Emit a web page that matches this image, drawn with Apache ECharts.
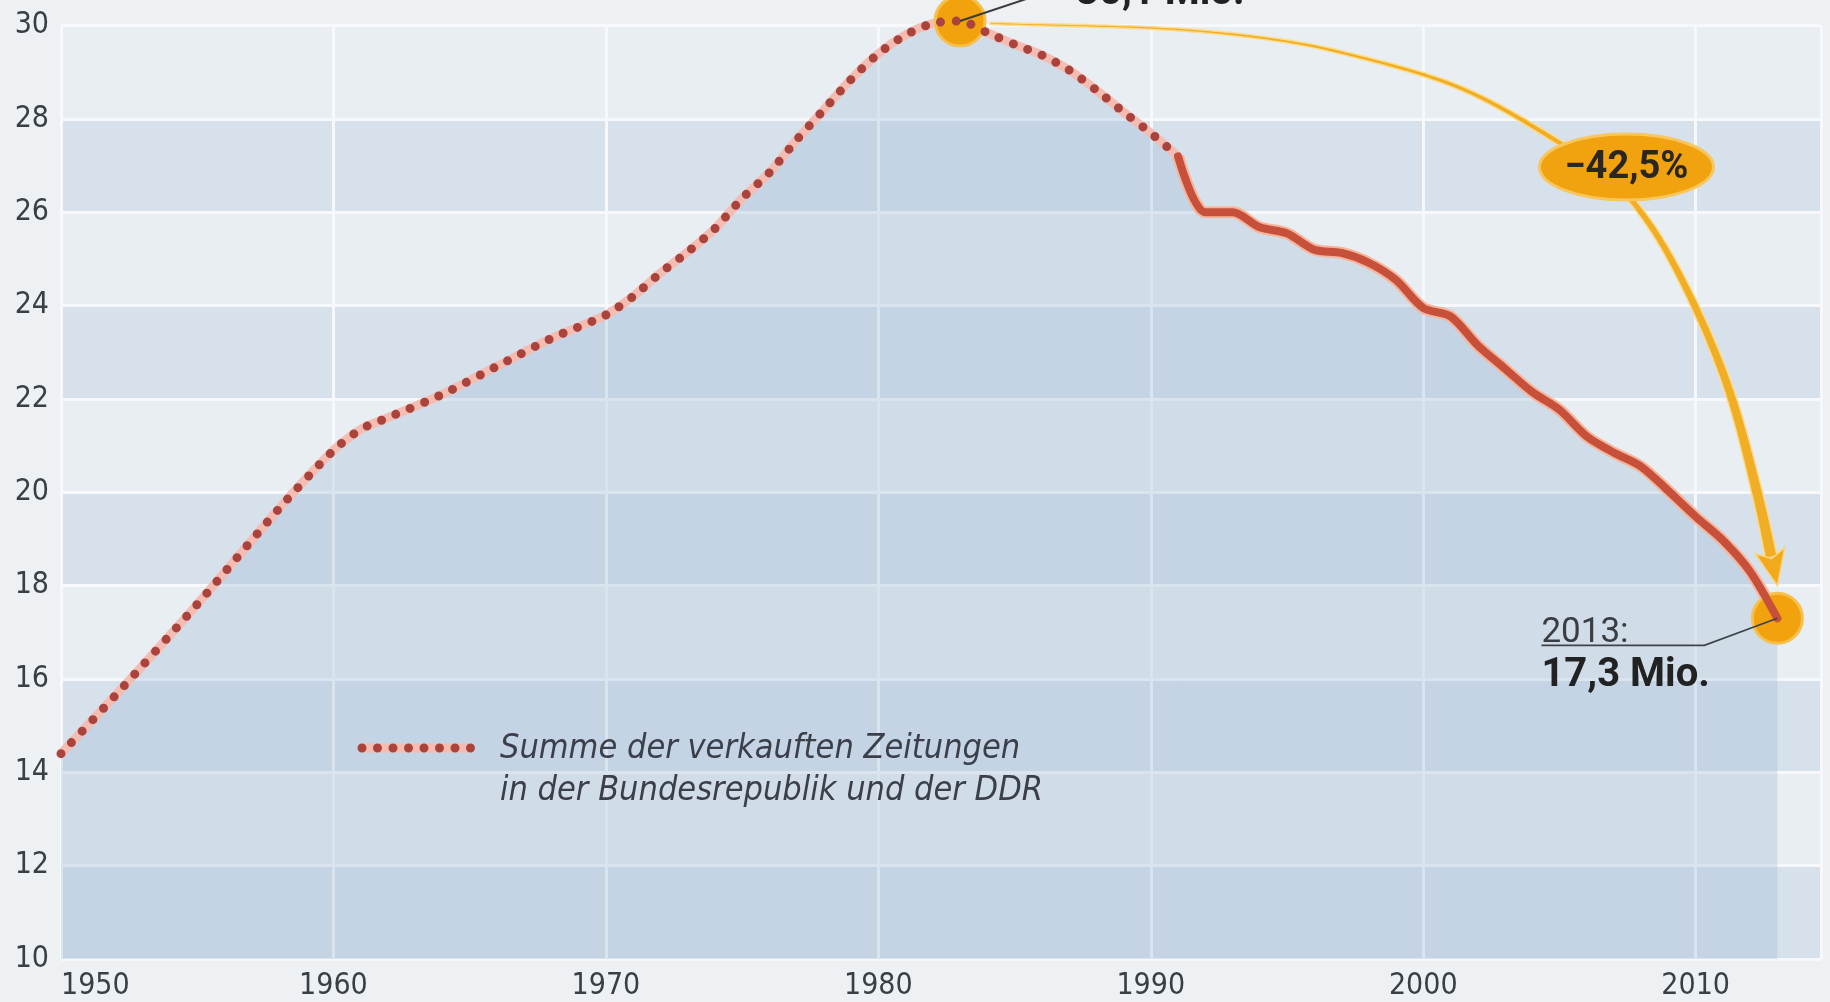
<!DOCTYPE html>
<html><head><meta charset="utf-8">
<script src="https://cdn.jsdelivr.net/npm/echarts@6/dist/echarts.min.js"></script>
<style>html,body{margin:0;padding:0;background:#edf1f4;}#c{width:1830px;height:1002px;}</style>
</head><body><div id="c"></div>
<script>
// ---- data (million copies sold) ----
const dottedYears  = [1950,1952,1955,1958,1960,1961,1962,1964,1966,1968,1970,1971,1972,1973,1974,1975,1976,1977,1978,1979,1980,1981,1982,1983,1984,1985,1986,1987,1988,1989,1990,1991];
const dottedValues = [14.4,15.65,17.6,19.65,20.9,21.35,21.6,22.1,22.7,23.3,23.8,24.2,24.7,25.15,25.65,26.3,26.85,27.55,28.2,28.85,29.4,29.8,30.05,30.1,29.85,29.6,29.37,29.05,28.62,28.15,27.7,27.2];
const solidYears   = [1991,1992,1993,1994,1995,1996,1997,1998,1999,2000,2001,2002,2003,2004,2005,2006,2007,2008,2009,2010,2011,2012,2013];
const solidValues  = [27.2,26.0,26.0,25.68,25.55,25.2,25.13,24.92,24.55,23.95,23.77,23.15,22.65,22.15,21.77,21.2,20.85,20.55,20.03,19.48,18.97,18.3,17.3];
const highlightYears  = [1983, 2013];
const highlightValues = [30.1, 17.3];
const yTicks = [10,12,14,16,18,20,22,24,26,28,30];
const xTicks = [1950,1960,1970,1980,1990,2000,2010];
const labelPeak = '30,1 Mio.';
const labelEndYear = '2013:';
const labelEnd = '17,3 Mio.';
const labelChange = '\u221242,5%';
const legendLines = ['Summe der verkauften Zeitungen', 'in der Bundesrepublik und der DDR'];
// arrow path (annotation) in data coordinates [year, value]
const arrowPath = [[1984.1,30.05],[1991.2,29.91],[1994.9,29.67],[1997.1,29.41],[2001.3,28.68],[2004.7,27.6],[2006.94,26.69],[2008.26,25.79],[2009.69,24.33],[2011.16,22.3],[2012.23,20.05],[2013.0,18.0]];
const ellipseAt = [2007.46, 26.97];

const zip = (a,b)=>a.map((v,i)=>[v,b[i]]);
const dotted = zip(dottedYears, dottedValues);
const solid = zip(solidYears, solidValues);
const highlights = zip(highlightYears, highlightValues);

const AX_FONT = '"DejaVu Sans Condensed","Liberation Sans Narrow",sans-serif';
const areaColor = 'rgba(150,180,212,0.42)';

const chart = echarts.init(document.getElementById('c'), null, {renderer:'canvas'});
chart.setOption({
  backgroundColor:'#edf1f4',
  animation:false,
  grid:{left:61, right:9, top:25.7, bottom:43, containLabel:false},
  xAxis:{type:'value', min:1950, max:2014.6, interval:10,
    axisLine:{show:false}, axisTick:{show:false},
    axisLabel:{fontFamily:AX_FONT, fontSize:30, color:'#3a3e45', margin:12, alignMinLabel:'left', showMaxLabel:false,
      formatter:v=> xTicks.includes(v)? String(v):''},
    splitLine:{show:true, lineStyle:{color:'#f6f8fb', width:3}}},
  yAxis:{type:'value', min:10, max:30, interval:2,
    axisLine:{show:false}, axisTick:{show:false},
    axisLabel:{fontFamily:AX_FONT, fontSize:30, color:'#3a3e45', margin:12,
      formatter:v=> yTicks.includes(v)? String(v):''},
    splitLine:{show:true, lineStyle:{color:'#f6f8fb', width:3}},
    splitArea:{show:true, areaStyle:{color:['#d7e1eb','#e9eef3']}}},
  series:[
    {type:'line', data:dotted, smooth:0.25, symbol:'none', z:3, clip:false,
      lineStyle:{color:'#f4bdb3', width:9},
      areaStyle:{color:areaColor, origin:'start'}},
    {type:'line', data:solid, smooth:0.3, symbol:'none', z:3, clip:false,
      lineStyle:{color:'#f6b59c', width:12},
      areaStyle:{color:areaColor, origin:'start'}},
    {type:'scatter', data:highlights, symbolSize:50, z:4, clip:false,
      itemStyle:{color:'#f1a20c', borderColor:'#f6c04e', borderWidth:3, opacity:1}},
    {type:'line', data:dotted, smooth:0.25, symbol:'none', z:5, clip:false,
      lineStyle:{color:'#a9433c', width:9, type:[0,15.5], cap:'round'}},
    {type:'line', data:solid, smooth:0.3, symbol:'none', z:5, clip:false,
      lineStyle:{color:'#c7503b', width:8, cap:'round', join:'round'}}
  ]
});

function px(p){ return chart.convertToPixel({gridIndex:0}, p); }
// centripetal Catmull-Rom
function crSpline(pts, steps){
  const n=pts.length, P=[ [2*pts[0][0]-pts[1][0], 2*pts[0][1]-pts[1][1]] ].concat(pts, [[2*pts[n-1][0]-pts[n-2][0], 2*pts[n-1][1]-pts[n-2][1]]]);
  const out=[];
  const d=(a,b)=>Math.pow(Math.hypot(b[0]-a[0],b[1]-a[1])||1e-6,0.5);
  const lerp=(a,b,ta,tb,t)=>[ (tb-t)/(tb-ta)*a[0]+(t-ta)/(tb-ta)*b[0], (tb-t)/(tb-ta)*a[1]+(t-ta)/(tb-ta)*b[1] ];
  for(let i=1;i<P.length-2;i++){
    const p0=P[i-1],p1=P[i],p2=P[i+1],p3=P[i+2];
    const t0=0,t1=t0+d(p0,p1),t2=t1+d(p1,p2),t3=t2+d(p2,p3);
    for(let s=0;s<steps;s++){
      const t=t1+(t2-t1)*s/steps;
      const A1=lerp(p0,p1,t0,t1,t),A2=lerp(p1,p2,t1,t2,t),A3=lerp(p2,p3,t2,t3,t);
      const B1=lerp(A1,A2,t0,t2,t),B2=lerp(A2,A3,t1,t3,t);
      out.push(lerp(B1,B2,t1,t2,t));
    }
  }
  out.push(pts[n-1]);
  return out;
}

function buildArrow(){
  const pts = crSpline(arrowPath.map(px), 30);
  const cum=[0];
  for(let i=1;i<pts.length;i++){ cum.push(cum[i-1]+Math.hypot(pts[i][0]-pts[i-1][0], pts[i][1]-pts[i-1][1])); }
  const L = cum[cum.length-1];
  const headLen = 34, headW = 30;
  const shaftEnd = L - headLen + 6;
  const left=[], right=[];
  for(let i=0;i<pts.length;i++){
    if(cum[i]>shaftEnd) break;
    const a=pts[Math.max(i-1,0)], b=pts[Math.min(i+1,pts.length-1)];
    let tx=b[0]-a[0], ty=b[1]-a[1]; const tl=Math.hypot(tx,ty)||1; tx/=tl; ty/=tl;
    const nx=-ty, ny=tx;
    const f=cum[i]/shaftEnd;
    const w=(2.4 + 9.6*Math.pow(f,1.8))/2;
    left.push([pts[i][0]+nx*w, pts[i][1]+ny*w]);
    right.push([pts[i][0]-nx*w, pts[i][1]-ny*w]);
  }
  const shaft = left.concat(right.reverse());
  const tip = pts[pts.length-1];
  let idxB = 0; for(let i=0;i<pts.length;i++){ if(cum[i]<=L-headLen) idxB=i; }
  const base = pts[idxB];
  let dx=tip[0]-base[0], dy=tip[1]-base[1]; const dl=Math.hypot(dx,dy)||1; dx/=dl; dy/=dl;
  const nx=-dy, ny=dx;
  const head=[[base[0]+nx*headW/2, base[1]+ny*headW/2],[tip[0],tip[1]],[base[0]-nx*headW/2, base[1]-ny*headW/2],[base[0]+dx*8, base[1]+dy*8]];
  return {shaft, head};
}

function draw(){
  const peak = px(highlights[0]);
  const end = px(highlights[1]);
  const arr = buildArrow();
  const ell = px(ellipseAt);
  const bold = '"Roboto","Liberation Sans",sans-serif';
  chart.setOption({graphic:[
    {type:'polygon', z:50, shape:{points:arr.shaft}, style:{fill:'#f0ae26', stroke:'#fbdc8c', lineWidth:1.5}},
    {type:'polygon', z:51, shape:{points:arr.head}, style:{fill:'#f1aa1c', stroke:'#fbd47a', lineWidth:1.5}},
    {type:'ellipse', z:60, shape:{cx:ell[0], cy:ell[1], rx:87, ry:33}, style:{fill:'#f0a30e', stroke:'#f8c65c', lineWidth:3}},
    {type:'text', z:61, x:ell[0], y:ell[1]+1, style:{text:labelChange, fill:'#2a2622', font:'bold 38px '+bold, align:'center', verticalAlign:'middle'}},
    {type:'line', z:60, shape:{x1:peak[0], y1:peak[1], x2:peak[0]+78, y2:peak[1]-26}, style:{stroke:'#3b3b3b', lineWidth:2}},
    {type:'text', z:61, x:peak[0]+116, y:peak[1]-7, style:{text:labelPeak, fill:'#222', font:'bold 40px '+bold, align:'left', verticalAlign:'bottom'}},
    {type:'polyline', z:60, shape:{points:[[end[0],end[1]],[end[0]-73,end[1]+27],[end[0]-236,end[1]+27]]}, style:{stroke:'#3f4348', lineWidth:1.6, fill:null}},
    {type:'text', z:61, x:end[0]-236, y:end[1]+32, style:{text:labelEndYear, fill:'#3a3d42', font:'35px '+bold, align:'left', verticalAlign:'bottom'}},
    {type:'text', z:61, x:end[0]-236, y:end[1]+78, style:{text:labelEnd, fill:'#222', font:'bold 40px '+bold, align:'left', verticalAlign:'bottom'}},
    {type:'line', z:60, shape:{x1:360, y1:748, x2:472, y2:748}, style:{stroke:'#f4bdb3', lineWidth:9}},
    {type:'line', z:61, shape:{x1:362, y1:748, x2:472, y2:748}, style:{stroke:'#a9433c', lineWidth:9, lineDash:[0,15.5], lineCap:'round'}},
    {type:'text', z:61, x:500, y:749, style:{text:legendLines[0], fill:'#3a3f4a', font:'italic 34px '+AX_FONT, align:'left', verticalAlign:'middle'}},
    {type:'text', z:61, x:500, y:791, style:{text:legendLines[1], fill:'#3a3f4a', font:'italic 34px '+AX_FONT, align:'left', verticalAlign:'middle'}}
  ]});
}
draw();
</script>
</body></html>
